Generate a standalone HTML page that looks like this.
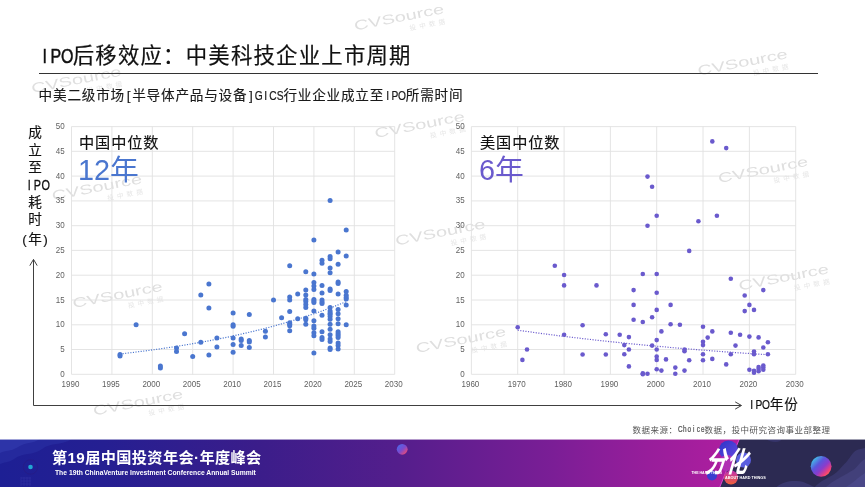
<!DOCTYPE html>
<html lang="zh-CN">
<head>
<meta charset="utf-8">
<title>IPO后移效应：中美科技企业上市周期</title>
<style>
html,body{margin:0;padding:0;background:#fff;}
body{width:865px;height:487px;position:relative;overflow:hidden;font-family:"Liberation Sans","Noto Sans CJK SC",sans-serif;color:#111;}
.abs{position:absolute;white-space:nowrap;}
#title{left:38.8px;top:41.2px;font-size:21.36px;letter-spacing:1.24px;line-height:30px;color:#111;-webkit-text-stroke:0.2px #111;}
#rule{left:38.5px;top:73px;width:779px;height:1.2px;background:#333;}
#sub{left:38.6px;top:86px;font-size:13.61px;letter-spacing:0.79px;line-height:20px;color:#1a1a1a;-webkit-text-stroke:0.15px #1a1a1a;}
#ylab{left:20px;top:124.2px;width:30px;text-align:center;font-size:13.61px;letter-spacing:0.79px;line-height:17.35px;color:#111;white-space:normal;-webkit-text-stroke:0.15px #111;}
#ylab div{height:17.35px;letter-spacing:0;}
.med{font-size:15.21px;letter-spacing:0.89px;line-height:22px;color:#111;-webkit-text-stroke:0.15px #111;}
.big{font-size:28.8px;line-height:34px;}
#xlab{left:748.2px;top:394px;font-size:13.61px;letter-spacing:0.79px;line-height:22px;color:#111;-webkit-text-stroke:0.15px #111;}
#src{left:632.6px;top:422.6px;font-size:8.50px;letter-spacing:0.49px;line-height:14px;color:#555;}
#ft1{left:52px;top:447.9px;font-size:15.2px;letter-spacing:0.36px;line-height:20px;color:#fff;font-weight:bold;}
#ft2{left:55px;top:468.6px;font-size:6.75px;line-height:8px;color:#fff;font-weight:bold;}
</style>
</head>
<body>
<svg class="abs" style="left:0;top:0" width="865" height="487" viewBox="0 0 865 487"><g transform="translate(32.2,93.0) rotate(-11)"><text x="0" y="0" font-size="13.4" textLength="91.5" lengthAdjust="spacingAndGlyphs" font-family="Liberation Sans, sans-serif" fill="#dfdfdf">CVSource</text><text x="54" y="10.5" font-size="6.6" textLength="36" font-family="Liberation Sans, Noto Sans CJK SC, sans-serif" fill="#e6e6e6">投中数据</text></g><g transform="translate(52.8,200.5) rotate(-11)"><text x="0" y="0" font-size="13.4" textLength="91.5" lengthAdjust="spacingAndGlyphs" font-family="Liberation Sans, sans-serif" fill="#dfdfdf">CVSource</text><text x="54" y="10.5" font-size="6.6" textLength="36" font-family="Liberation Sans, Noto Sans CJK SC, sans-serif" fill="#e6e6e6">投中数据</text></g><g transform="translate(73.4,308.0) rotate(-11)"><text x="0" y="0" font-size="13.4" textLength="91.5" lengthAdjust="spacingAndGlyphs" font-family="Liberation Sans, sans-serif" fill="#dfdfdf">CVSource</text><text x="54" y="10.5" font-size="6.6" textLength="36" font-family="Liberation Sans, Noto Sans CJK SC, sans-serif" fill="#e6e6e6">投中数据</text></g><g transform="translate(94.0,415.5) rotate(-11)"><text x="0" y="0" font-size="13.4" textLength="91.5" lengthAdjust="spacingAndGlyphs" font-family="Liberation Sans, sans-serif" fill="#dfdfdf">CVSource</text><text x="54" y="10.5" font-size="6.6" textLength="36" font-family="Liberation Sans, Noto Sans CJK SC, sans-serif" fill="#e6e6e6">投中数据</text></g><g transform="translate(355.0,30.5) rotate(-11)"><text x="0" y="0" font-size="13.4" textLength="91.5" lengthAdjust="spacingAndGlyphs" font-family="Liberation Sans, sans-serif" fill="#dfdfdf">CVSource</text><text x="54" y="10.5" font-size="6.6" textLength="36" font-family="Liberation Sans, Noto Sans CJK SC, sans-serif" fill="#e6e6e6">投中数据</text></g><g transform="translate(375.6,138.0) rotate(-11)"><text x="0" y="0" font-size="13.4" textLength="91.5" lengthAdjust="spacingAndGlyphs" font-family="Liberation Sans, sans-serif" fill="#dfdfdf">CVSource</text><text x="54" y="10.5" font-size="6.6" textLength="36" font-family="Liberation Sans, Noto Sans CJK SC, sans-serif" fill="#e6e6e6">投中数据</text></g><g transform="translate(396.2,245.5) rotate(-11)"><text x="0" y="0" font-size="13.4" textLength="91.5" lengthAdjust="spacingAndGlyphs" font-family="Liberation Sans, sans-serif" fill="#dfdfdf">CVSource</text><text x="54" y="10.5" font-size="6.6" textLength="36" font-family="Liberation Sans, Noto Sans CJK SC, sans-serif" fill="#e6e6e6">投中数据</text></g><g transform="translate(416.8,353.0) rotate(-11)"><text x="0" y="0" font-size="13.4" textLength="91.5" lengthAdjust="spacingAndGlyphs" font-family="Liberation Sans, sans-serif" fill="#dfdfdf">CVSource</text><text x="54" y="10.5" font-size="6.6" textLength="36" font-family="Liberation Sans, Noto Sans CJK SC, sans-serif" fill="#e6e6e6">投中数据</text></g><g transform="translate(698.4,75.5) rotate(-11)"><text x="0" y="0" font-size="13.4" textLength="91.5" lengthAdjust="spacingAndGlyphs" font-family="Liberation Sans, sans-serif" fill="#dfdfdf">CVSource</text><text x="54" y="10.5" font-size="6.6" textLength="36" font-family="Liberation Sans, Noto Sans CJK SC, sans-serif" fill="#e6e6e6">投中数据</text></g><g transform="translate(719.0,183.0) rotate(-11)"><text x="0" y="0" font-size="13.4" textLength="91.5" lengthAdjust="spacingAndGlyphs" font-family="Liberation Sans, sans-serif" fill="#dfdfdf">CVSource</text><text x="54" y="10.5" font-size="6.6" textLength="36" font-family="Liberation Sans, Noto Sans CJK SC, sans-serif" fill="#e6e6e6">投中数据</text></g><g transform="translate(739.6,290.5) rotate(-11)"><text x="0" y="0" font-size="13.4" textLength="91.5" lengthAdjust="spacingAndGlyphs" font-family="Liberation Sans, sans-serif" fill="#dfdfdf">CVSource</text><text x="54" y="10.5" font-size="6.6" textLength="36" font-family="Liberation Sans, Noto Sans CJK SC, sans-serif" fill="#e6e6e6">投中数据</text></g></svg>
<div class="abs" id="title"><svg width="33.90" height="20.79" viewBox="0 0 33.90 20.79" style="overflow:visible;vertical-align:baseline;letter-spacing:0"><text transform="scale(0.77,1)" x="7.34 22.01 36.69" y="20.79" text-anchor="middle" font-family="Liberation Sans, sans-serif" font-size="20.79" fill="currentColor" stroke="currentColor" stroke-width="0.5">IPO</text></svg>后移效应：中美科技企业上市周期</div>
<div class="abs" id="rule"></div>
<div class="abs" id="sub">中美二级市场<span style="display:inline-block;width:7.20px;text-align:center;letter-spacing:0">[</span>半导体产品与设备<span style="display:inline-block;width:7.20px;text-align:center;letter-spacing:0">]</span><svg width="28.80" height="13.25" viewBox="0 0 28.80 13.25" style="overflow:visible;vertical-align:baseline;letter-spacing:0"><text transform="scale(0.77,1)" x="4.68 14.03 23.38 32.73" y="13.25" text-anchor="middle" font-family="Liberation Sans, sans-serif" font-size="13.25" fill="currentColor" stroke="currentColor" stroke-width="0.25">GICS</text></svg>行业企业成立至<svg width="21.60" height="13.25" viewBox="0 0 21.60 13.25" style="overflow:visible;vertical-align:baseline;letter-spacing:0"><text transform="scale(0.77,1)" x="4.68 14.03 23.38" y="13.25" text-anchor="middle" font-family="Liberation Sans, sans-serif" font-size="13.25" fill="currentColor" stroke="currentColor" stroke-width="0.25">IPO</text></svg>所需时间</div>
<div class="abs" id="ylab"><div>成</div><div>立</div><div>至</div><div style="white-space:nowrap;position:relative;left:2.6px"><svg width="24.90" height="14.11" viewBox="0 0 24.90 14.11" style="overflow:visible;vertical-align:baseline;letter-spacing:0"><text transform="scale(0.77,1)" x="5.39 16.17 26.95" y="14.11" text-anchor="middle" font-family="Liberation Sans, sans-serif" font-size="14.11" fill="currentColor" stroke="currentColor" stroke-width="0.3">IPO</text></svg></div><div>耗</div><div>时</div><div style="margin-top:3.2px"><span style="display:inline-block;width:7.20px;text-align:center;letter-spacing:0">(</span>年<span style="display:inline-block;width:7.20px;text-align:center;letter-spacing:0">)</span></div></div>
<svg class="abs" style="left:0;top:0" width="865" height="487" viewBox="0 0 865 487"><g stroke="#e1e1e1" stroke-width="0.9"><line x1="71.5" y1="374.3" x2="394.7" y2="374.3"/><line x1="71.5" y1="349.5" x2="394.7" y2="349.5"/><line x1="71.5" y1="324.8" x2="394.7" y2="324.8"/><line x1="71.5" y1="300.0" x2="394.7" y2="300.0"/><line x1="71.5" y1="275.2" x2="394.7" y2="275.2"/><line x1="71.5" y1="250.4" x2="394.7" y2="250.4"/><line x1="71.5" y1="225.7" x2="394.7" y2="225.7"/><line x1="71.5" y1="200.9" x2="394.7" y2="200.9"/><line x1="71.5" y1="176.1" x2="394.7" y2="176.1"/><line x1="71.5" y1="151.3" x2="394.7" y2="151.3"/><line x1="71.5" y1="126.6" x2="394.7" y2="126.6"/><line x1="71.5" y1="126.6" x2="71.5" y2="374.3"/><line x1="111.9" y1="126.6" x2="111.9" y2="374.3"/><line x1="152.3" y1="126.6" x2="152.3" y2="374.3"/><line x1="192.7" y1="126.6" x2="192.7" y2="374.3"/><line x1="233.1" y1="126.6" x2="233.1" y2="374.3"/><line x1="273.5" y1="126.6" x2="273.5" y2="374.3"/><line x1="313.9" y1="126.6" x2="313.9" y2="374.3"/><line x1="354.3" y1="126.6" x2="354.3" y2="374.3"/><line x1="394.7" y1="126.6" x2="394.7" y2="374.3"/></g><g font-family="Liberation Sans, sans-serif" font-size="8.9" fill="#5f5f5f"><text x="64.7" y="376.8" text-anchor="end" textLength="4.45" lengthAdjust="spacingAndGlyphs">0</text><text x="64.7" y="352.0" text-anchor="end" textLength="4.45" lengthAdjust="spacingAndGlyphs">5</text><text x="64.7" y="327.2" text-anchor="end" textLength="8.90" lengthAdjust="spacingAndGlyphs">10</text><text x="64.7" y="302.5" text-anchor="end" textLength="8.90" lengthAdjust="spacingAndGlyphs">15</text><text x="64.7" y="277.7" text-anchor="end" textLength="8.90" lengthAdjust="spacingAndGlyphs">20</text><text x="64.7" y="252.9" text-anchor="end" textLength="8.90" lengthAdjust="spacingAndGlyphs">25</text><text x="64.7" y="228.2" text-anchor="end" textLength="8.90" lengthAdjust="spacingAndGlyphs">30</text><text x="64.7" y="203.4" text-anchor="end" textLength="8.90" lengthAdjust="spacingAndGlyphs">35</text><text x="64.7" y="178.6" text-anchor="end" textLength="8.90" lengthAdjust="spacingAndGlyphs">40</text><text x="64.7" y="153.8" text-anchor="end" textLength="8.90" lengthAdjust="spacingAndGlyphs">45</text><text x="64.7" y="129.1" text-anchor="end" textLength="8.90" lengthAdjust="spacingAndGlyphs">50</text><text x="70.5" y="387.1" text-anchor="middle" textLength="17.80" lengthAdjust="spacingAndGlyphs">1990</text><text x="110.9" y="387.1" text-anchor="middle" textLength="17.80" lengthAdjust="spacingAndGlyphs">1995</text><text x="151.3" y="387.1" text-anchor="middle" textLength="17.80" lengthAdjust="spacingAndGlyphs">2000</text><text x="191.7" y="387.1" text-anchor="middle" textLength="17.80" lengthAdjust="spacingAndGlyphs">2005</text><text x="232.1" y="387.1" text-anchor="middle" textLength="17.80" lengthAdjust="spacingAndGlyphs">2010</text><text x="272.5" y="387.1" text-anchor="middle" textLength="17.80" lengthAdjust="spacingAndGlyphs">2015</text><text x="312.9" y="387.1" text-anchor="middle" textLength="17.80" lengthAdjust="spacingAndGlyphs">2020</text><text x="353.3" y="387.1" text-anchor="middle" textLength="17.80" lengthAdjust="spacingAndGlyphs">2025</text><text x="393.7" y="387.1" text-anchor="middle" textLength="17.80" lengthAdjust="spacingAndGlyphs">2030</text></g><g stroke="#e1e1e1" stroke-width="0.9"><line x1="471.4" y1="374.3" x2="795.7" y2="374.3"/><line x1="471.4" y1="349.5" x2="795.7" y2="349.5"/><line x1="471.4" y1="324.8" x2="795.7" y2="324.8"/><line x1="471.4" y1="300.0" x2="795.7" y2="300.0"/><line x1="471.4" y1="275.2" x2="795.7" y2="275.2"/><line x1="471.4" y1="250.4" x2="795.7" y2="250.4"/><line x1="471.4" y1="225.7" x2="795.7" y2="225.7"/><line x1="471.4" y1="200.9" x2="795.7" y2="200.9"/><line x1="471.4" y1="176.1" x2="795.7" y2="176.1"/><line x1="471.4" y1="151.3" x2="795.7" y2="151.3"/><line x1="471.4" y1="126.6" x2="795.7" y2="126.6"/><line x1="471.4" y1="126.6" x2="471.4" y2="374.3"/><line x1="517.7" y1="126.6" x2="517.7" y2="374.3"/><line x1="564.1" y1="126.6" x2="564.1" y2="374.3"/><line x1="610.4" y1="126.6" x2="610.4" y2="374.3"/><line x1="656.7" y1="126.6" x2="656.7" y2="374.3"/><line x1="703.0" y1="126.6" x2="703.0" y2="374.3"/><line x1="749.4" y1="126.6" x2="749.4" y2="374.3"/><line x1="795.7" y1="126.6" x2="795.7" y2="374.3"/></g><g font-family="Liberation Sans, sans-serif" font-size="8.9" fill="#5f5f5f"><text x="464.6" y="376.8" text-anchor="end" textLength="4.45" lengthAdjust="spacingAndGlyphs">0</text><text x="464.6" y="352.0" text-anchor="end" textLength="4.45" lengthAdjust="spacingAndGlyphs">5</text><text x="464.6" y="327.2" text-anchor="end" textLength="8.90" lengthAdjust="spacingAndGlyphs">10</text><text x="464.6" y="302.5" text-anchor="end" textLength="8.90" lengthAdjust="spacingAndGlyphs">15</text><text x="464.6" y="277.7" text-anchor="end" textLength="8.90" lengthAdjust="spacingAndGlyphs">20</text><text x="464.6" y="252.9" text-anchor="end" textLength="8.90" lengthAdjust="spacingAndGlyphs">25</text><text x="464.6" y="228.2" text-anchor="end" textLength="8.90" lengthAdjust="spacingAndGlyphs">30</text><text x="464.6" y="203.4" text-anchor="end" textLength="8.90" lengthAdjust="spacingAndGlyphs">35</text><text x="464.6" y="178.6" text-anchor="end" textLength="8.90" lengthAdjust="spacingAndGlyphs">40</text><text x="464.6" y="153.8" text-anchor="end" textLength="8.90" lengthAdjust="spacingAndGlyphs">45</text><text x="464.6" y="129.1" text-anchor="end" textLength="8.90" lengthAdjust="spacingAndGlyphs">50</text><text x="470.4" y="387.1" text-anchor="middle" textLength="17.80" lengthAdjust="spacingAndGlyphs">1960</text><text x="516.7" y="387.1" text-anchor="middle" textLength="17.80" lengthAdjust="spacingAndGlyphs">1970</text><text x="563.1" y="387.1" text-anchor="middle" textLength="17.80" lengthAdjust="spacingAndGlyphs">1980</text><text x="609.4" y="387.1" text-anchor="middle" textLength="17.80" lengthAdjust="spacingAndGlyphs">1990</text><text x="655.7" y="387.1" text-anchor="middle" textLength="17.80" lengthAdjust="spacingAndGlyphs">2000</text><text x="702.0" y="387.1" text-anchor="middle" textLength="17.80" lengthAdjust="spacingAndGlyphs">2010</text><text x="748.4" y="387.1" text-anchor="middle" textLength="17.80" lengthAdjust="spacingAndGlyphs">2020</text><text x="794.7" y="387.1" text-anchor="middle" textLength="17.80" lengthAdjust="spacingAndGlyphs">2030</text></g><polyline points="120.0,354.0 124.0,353.5 128.1,353.0 132.1,352.6 136.1,352.0 140.2,351.5 144.2,351.0 148.3,350.5 152.3,349.9 156.3,349.4 160.4,348.8 164.4,348.2 168.5,347.6 172.5,347.0 176.5,346.4 180.6,345.7 184.6,345.1 188.7,344.4 192.7,343.7 196.7,343.0 200.8,342.3 204.8,341.5 208.9,340.8 212.9,340.0 216.9,339.2 221.0,338.4 225.0,337.6 229.1,336.8 233.1,335.9 237.1,335.0 241.2,334.1 245.2,333.2 249.3,332.2 253.3,331.3 257.3,330.3 261.4,329.3 265.4,328.2 269.5,327.2 273.5,326.1 277.5,325.0 281.6,323.8 285.6,322.7 289.7,321.5 293.7,320.3 297.7,319.0 301.8,317.8 305.8,316.5 309.9,315.1 313.9,313.8 317.9,312.4 322.0,311.0 326.0,309.5 330.1,308.0 334.1,306.5 338.1,304.9 342.2,303.3 346.2,301.7" fill="none" stroke="#4a76cf" stroke-width="1.2" stroke-dasharray="1.1 1.5"/><polyline points="517.7,330.2 522.4,330.9 527.0,331.5 531.6,332.1 536.3,332.8 540.9,333.4 545.5,334.0 550.2,334.6 554.8,335.2 559.4,335.8 564.1,336.4 568.7,336.9 573.3,337.5 578.0,338.0 582.6,338.6 587.2,339.1 591.9,339.6 596.5,340.2 601.1,340.7 605.8,341.2 610.4,341.7 615.0,342.1 619.7,342.6 624.3,343.1 628.9,343.6 633.6,344.0 638.2,344.5 642.8,344.9 647.5,345.4 652.1,345.8 656.7,346.2 661.4,346.6 666.0,347.0 670.6,347.5 675.3,347.9 679.9,348.3 684.5,348.6 689.2,349.0 693.8,349.4 698.4,349.8 703.0,350.1 707.7,350.5 712.3,350.9 716.9,351.2 721.6,351.6 726.2,351.9 730.8,352.2 735.5,352.6 740.1,352.9 744.7,353.2 749.4,353.5 754.0,353.8 758.6,354.1 763.3,354.4 767.9,354.7" fill="none" stroke="#6a5acd" stroke-width="1.2" stroke-dasharray="1.1 1.5"/><g fill="#4a76cf"><circle cx="120.0" cy="356.0" r="2.5"/><circle cx="120.0" cy="354.5" r="2.5"/><circle cx="136.1" cy="324.8" r="2.5"/><circle cx="160.4" cy="367.9" r="2.5"/><circle cx="160.4" cy="365.9" r="2.5"/><circle cx="176.5" cy="348.0" r="2.5"/><circle cx="176.5" cy="351.5" r="2.5"/><circle cx="184.6" cy="333.7" r="2.5"/><circle cx="192.7" cy="356.5" r="2.5"/><circle cx="200.8" cy="295.0" r="2.5"/><circle cx="200.8" cy="342.3" r="2.5"/><circle cx="208.9" cy="283.9" r="2.5"/><circle cx="208.9" cy="307.9" r="2.5"/><circle cx="208.9" cy="355.0" r="2.5"/><circle cx="216.9" cy="338.1" r="2.5"/><circle cx="216.9" cy="347.0" r="2.5"/><circle cx="233.1" cy="312.9" r="2.5"/><circle cx="233.1" cy="324.8" r="2.5"/><circle cx="233.1" cy="326.2" r="2.5"/><circle cx="233.1" cy="338.1" r="2.5"/><circle cx="233.1" cy="344.6" r="2.5"/><circle cx="233.1" cy="352.3" r="2.5"/><circle cx="241.2" cy="339.1" r="2.5"/><circle cx="241.2" cy="340.6" r="2.5"/><circle cx="241.2" cy="345.6" r="2.5"/><circle cx="249.3" cy="314.6" r="2.5"/><circle cx="249.3" cy="340.6" r="2.5"/><circle cx="249.3" cy="342.1" r="2.5"/><circle cx="249.3" cy="347.5" r="2.5"/><circle cx="265.4" cy="331.2" r="2.5"/><circle cx="265.4" cy="337.1" r="2.5"/><circle cx="273.5" cy="300.0" r="2.5"/><circle cx="281.6" cy="317.8" r="2.5"/><circle cx="289.7" cy="265.8" r="2.5"/><circle cx="289.7" cy="297.0" r="2.5"/><circle cx="289.7" cy="300.0" r="2.5"/><circle cx="289.7" cy="311.4" r="2.5"/><circle cx="289.7" cy="322.8" r="2.5"/><circle cx="289.7" cy="324.3" r="2.5"/><circle cx="289.7" cy="325.7" r="2.5"/><circle cx="289.7" cy="330.7" r="2.5"/><circle cx="297.7" cy="294.0" r="2.5"/><circle cx="297.7" cy="318.8" r="2.5"/><circle cx="305.8" cy="271.7" r="2.5"/><circle cx="305.8" cy="290.1" r="2.5"/><circle cx="305.8" cy="295.0" r="2.5"/><circle cx="305.8" cy="299.5" r="2.5"/><circle cx="305.8" cy="301.5" r="2.5"/><circle cx="305.8" cy="304.4" r="2.5"/><circle cx="305.8" cy="307.4" r="2.5"/><circle cx="305.8" cy="318.3" r="2.5"/><circle cx="305.8" cy="319.8" r="2.5"/><circle cx="305.8" cy="324.3" r="2.5"/><circle cx="313.9" cy="240.0" r="2.5"/><circle cx="313.9" cy="274.0" r="2.5"/><circle cx="313.9" cy="282.6" r="2.5"/><circle cx="313.9" cy="286.1" r="2.5"/><circle cx="313.9" cy="289.6" r="2.5"/><circle cx="313.9" cy="299.5" r="2.5"/><circle cx="313.9" cy="301.0" r="2.5"/><circle cx="313.9" cy="302.5" r="2.5"/><circle cx="313.9" cy="310.9" r="2.5"/><circle cx="313.9" cy="320.8" r="2.5"/><circle cx="313.9" cy="326.0" r="2.5"/><circle cx="313.9" cy="328.2" r="2.5"/><circle cx="313.9" cy="332.7" r="2.5"/><circle cx="313.9" cy="335.7" r="2.5"/><circle cx="313.9" cy="353.0" r="2.5"/><circle cx="322.0" cy="260.3" r="2.5"/><circle cx="322.0" cy="263.3" r="2.5"/><circle cx="322.0" cy="285.4" r="2.5"/><circle cx="322.0" cy="293.0" r="2.5"/><circle cx="322.0" cy="300.0" r="2.5"/><circle cx="322.0" cy="302.0" r="2.5"/><circle cx="322.0" cy="303.4" r="2.5"/><circle cx="322.0" cy="315.3" r="2.5"/><circle cx="322.0" cy="331.7" r="2.5"/><circle cx="322.0" cy="337.6" r="2.5"/><circle cx="322.0" cy="339.6" r="2.5"/><circle cx="330.1" cy="200.4" r="2.5"/><circle cx="330.1" cy="256.4" r="2.5"/><circle cx="330.1" cy="258.8" r="2.5"/><circle cx="330.1" cy="268.0" r="2.5"/><circle cx="330.1" cy="272.7" r="2.5"/><circle cx="330.1" cy="289.1" r="2.5"/><circle cx="330.1" cy="290.6" r="2.5"/><circle cx="330.1" cy="307.4" r="2.5"/><circle cx="330.1" cy="310.9" r="2.5"/><circle cx="330.1" cy="312.9" r="2.5"/><circle cx="330.1" cy="314.3" r="2.5"/><circle cx="330.1" cy="316.6" r="2.5"/><circle cx="330.1" cy="319.3" r="2.5"/><circle cx="330.1" cy="324.3" r="2.5"/><circle cx="330.1" cy="329.2" r="2.5"/><circle cx="330.1" cy="334.7" r="2.5"/><circle cx="330.1" cy="339.1" r="2.5"/><circle cx="330.1" cy="341.6" r="2.5"/><circle cx="330.1" cy="348.0" r="2.5"/><circle cx="330.1" cy="349.5" r="2.5"/><circle cx="338.1" cy="251.9" r="2.5"/><circle cx="338.1" cy="264.3" r="2.5"/><circle cx="338.1" cy="282.1" r="2.5"/><circle cx="338.1" cy="283.6" r="2.5"/><circle cx="338.1" cy="294.0" r="2.5"/><circle cx="338.1" cy="309.4" r="2.5"/><circle cx="338.1" cy="313.8" r="2.5"/><circle cx="338.1" cy="318.8" r="2.5"/><circle cx="338.1" cy="323.8" r="2.5"/><circle cx="338.1" cy="331.7" r="2.5"/><circle cx="338.1" cy="333.7" r="2.5"/><circle cx="338.1" cy="335.4" r="2.5"/><circle cx="338.1" cy="337.6" r="2.5"/><circle cx="338.1" cy="343.1" r="2.5"/><circle cx="338.1" cy="345.6" r="2.5"/><circle cx="338.1" cy="349.0" r="2.5"/><circle cx="346.2" cy="229.9" r="2.5"/><circle cx="346.2" cy="255.9" r="2.5"/><circle cx="346.2" cy="291.6" r="2.5"/><circle cx="346.2" cy="295.3" r="2.5"/><circle cx="346.2" cy="297.5" r="2.5"/><circle cx="346.2" cy="299.0" r="2.5"/><circle cx="346.2" cy="304.9" r="2.5"/><circle cx="346.2" cy="324.8" r="2.5"/></g><g fill="#6a5acd"><circle cx="517.7" cy="327.2" r="2.3"/><circle cx="522.4" cy="359.9" r="2.3"/><circle cx="527.0" cy="349.5" r="2.3"/><circle cx="554.8" cy="265.8" r="2.3"/><circle cx="564.1" cy="275.0" r="2.3"/><circle cx="564.1" cy="285.4" r="2.3"/><circle cx="564.1" cy="334.7" r="2.3"/><circle cx="582.6" cy="325.2" r="2.3"/><circle cx="582.6" cy="354.5" r="2.3"/><circle cx="596.5" cy="285.4" r="2.3"/><circle cx="605.8" cy="334.2" r="2.3"/><circle cx="605.8" cy="354.5" r="2.3"/><circle cx="619.7" cy="334.7" r="2.3"/><circle cx="624.3" cy="345.1" r="2.3"/><circle cx="624.3" cy="354.2" r="2.3"/><circle cx="628.9" cy="337.1" r="2.3"/><circle cx="628.9" cy="349.5" r="2.3"/><circle cx="628.9" cy="366.4" r="2.3"/><circle cx="633.6" cy="290.1" r="2.3"/><circle cx="633.6" cy="304.9" r="2.3"/><circle cx="633.6" cy="319.8" r="2.3"/><circle cx="642.8" cy="274.0" r="2.3"/><circle cx="642.8" cy="322.0" r="2.3"/><circle cx="642.8" cy="373.3" r="2.3"/><circle cx="642.8" cy="374.3" r="2.3"/><circle cx="647.5" cy="176.6" r="2.3"/><circle cx="647.5" cy="225.7" r="2.3"/><circle cx="647.5" cy="373.8" r="2.3"/><circle cx="652.1" cy="186.8" r="2.3"/><circle cx="652.1" cy="317.3" r="2.3"/><circle cx="652.1" cy="345.6" r="2.3"/><circle cx="656.7" cy="215.7" r="2.3"/><circle cx="656.7" cy="274.0" r="2.3"/><circle cx="656.7" cy="292.8" r="2.3"/><circle cx="656.7" cy="309.9" r="2.3"/><circle cx="656.7" cy="340.1" r="2.3"/><circle cx="656.7" cy="349.5" r="2.3"/><circle cx="656.7" cy="356.5" r="2.3"/><circle cx="656.7" cy="359.9" r="2.3"/><circle cx="656.7" cy="369.3" r="2.3"/><circle cx="661.4" cy="331.4" r="2.3"/><circle cx="661.4" cy="370.6" r="2.3"/><circle cx="666.0" cy="359.4" r="2.3"/><circle cx="670.6" cy="304.9" r="2.3"/><circle cx="670.6" cy="324.3" r="2.3"/><circle cx="675.3" cy="367.6" r="2.3"/><circle cx="675.3" cy="373.8" r="2.3"/><circle cx="679.9" cy="324.8" r="2.3"/><circle cx="684.5" cy="349.5" r="2.3"/><circle cx="684.5" cy="351.3" r="2.3"/><circle cx="684.5" cy="370.6" r="2.3"/><circle cx="689.2" cy="250.9" r="2.3"/><circle cx="689.2" cy="360.2" r="2.3"/><circle cx="698.4" cy="221.2" r="2.3"/><circle cx="703.0" cy="326.7" r="2.3"/><circle cx="703.0" cy="341.8" r="2.3"/><circle cx="703.0" cy="345.1" r="2.3"/><circle cx="703.0" cy="354.2" r="2.3"/><circle cx="703.0" cy="360.2" r="2.3"/><circle cx="707.7" cy="337.6" r="2.3"/><circle cx="712.3" cy="141.4" r="2.3"/><circle cx="712.3" cy="331.4" r="2.3"/><circle cx="712.3" cy="358.9" r="2.3"/><circle cx="716.9" cy="215.7" r="2.3"/><circle cx="726.2" cy="148.1" r="2.3"/><circle cx="726.2" cy="364.4" r="2.3"/><circle cx="730.8" cy="278.7" r="2.3"/><circle cx="730.8" cy="332.7" r="2.3"/><circle cx="730.8" cy="354.2" r="2.3"/><circle cx="735.5" cy="345.6" r="2.3"/><circle cx="740.1" cy="334.7" r="2.3"/><circle cx="744.7" cy="295.5" r="2.3"/><circle cx="744.7" cy="311.1" r="2.3"/><circle cx="749.4" cy="304.9" r="2.3"/><circle cx="749.4" cy="336.6" r="2.3"/><circle cx="749.4" cy="369.8" r="2.3"/><circle cx="754.0" cy="309.9" r="2.3"/><circle cx="754.0" cy="351.5" r="2.3"/><circle cx="754.0" cy="354.2" r="2.3"/><circle cx="754.0" cy="370.8" r="2.3"/><circle cx="754.0" cy="372.8" r="2.3"/><circle cx="758.6" cy="337.4" r="2.3"/><circle cx="758.6" cy="367.1" r="2.3"/><circle cx="758.6" cy="369.1" r="2.3"/><circle cx="758.6" cy="371.3" r="2.3"/><circle cx="763.3" cy="290.1" r="2.3"/><circle cx="763.3" cy="347.5" r="2.3"/><circle cx="763.3" cy="365.6" r="2.3"/><circle cx="763.3" cy="367.4" r="2.3"/><circle cx="763.3" cy="369.8" r="2.3"/><circle cx="767.9" cy="342.3" r="2.3"/><circle cx="767.9" cy="354.2" r="2.3"/></g><g fill="none" stroke="#404040" stroke-width="1"><polyline points="33.5,259.6 33.5,405.5 741.2,405.5"/><polyline points="29.8,265.6 33.5,259.4 37.2,265.6"/><polyline points="735.2,401.9 741.5,405.5 735.2,409.1"/></g></svg>
<div class="abs med" style="left:79px;top:131.8px;">中国中位数</div>
<div class="abs big" style="left:78px;top:152.8px;color:#4a76cf;">12年</div>
<div class="abs med" style="left:480px;top:131.8px;">美国中位数</div>
<div class="abs big" style="left:479px;top:153.3px;color:#6a5acd;">6年</div>
<div class="abs" id="xlab"><svg width="21.60" height="13.25" viewBox="0 0 21.60 13.25" style="overflow:visible;vertical-align:baseline;letter-spacing:0"><text transform="scale(0.77,1)" x="4.68 14.03 23.38" y="13.25" text-anchor="middle" font-family="Liberation Sans, sans-serif" font-size="13.25" fill="currentColor" stroke="currentColor" stroke-width="0.25">IPO</text></svg>年份</div>
<div class="abs" id="src">数据来源：<svg width="27.00" height="8.28" viewBox="0 0 27.00 8.28" style="overflow:visible;vertical-align:baseline;letter-spacing:0"><text transform="scale(0.77,1)" x="2.92 8.77 14.61 20.45 26.30 32.14" y="8.28" text-anchor="middle" font-family="Liberation Sans, sans-serif" font-size="8.28" fill="currentColor" stroke="currentColor" stroke-width="0.25">Choice</text></svg>数据，投中研究咨询事业部整理</div>

<svg class="abs" style="left:0;top:439px" width="865" height="50" viewBox="0 439 865 50">
<defs>
<linearGradient id="fg" x1="0" y1="0" x2="1" y2="0">
<stop offset="0" stop-color="#1d1f94"/><stop offset="0.12" stop-color="#251f92"/><stop offset="0.30" stop-color="#3b1d8a"/>
<stop offset="0.46" stop-color="#541e8c"/><stop offset="0.64" stop-color="#7b1e96"/><stop offset="0.75" stop-color="#981e9b"/><stop offset="0.86" stop-color="#b21ea0"/><stop offset="1" stop-color="#b21ea0"/>
</linearGradient>
<linearGradient id="sp1" x1="0.1" y1="0.1" x2="0.9" y2="0.9">
<stop offset="0" stop-color="#3fd0e8"/><stop offset="0.35" stop-color="#5a55dc"/><stop offset="0.6" stop-color="#8a3ccc"/><stop offset="0.85" stop-color="#f0407a"/><stop offset="1" stop-color="#ff7048"/>
</linearGradient>
<linearGradient id="sp2" x1="0.1" y1="0.1" x2="0.9" y2="0.9">
<stop offset="0" stop-color="#4a6ae8"/><stop offset="0.5" stop-color="#7a4ad0"/><stop offset="1" stop-color="#f04a70"/>
</linearGradient>
<linearGradient id="bl1" x1="0" y1="0" x2="1" y2="1">
<stop offset="0" stop-color="#2a36c8"/><stop offset="1" stop-color="#6a48e0"/>
</linearGradient>
<linearGradient id="bl2" x1="0" y1="0" x2="0" y2="1">
<stop offset="0" stop-color="#c030b0"/><stop offset="1" stop-color="#f0603a"/>
</linearGradient>
</defs>
<rect x="0" y="439" width="865" height="53" fill="url(#fg)"/>
<path d="M0,439 L72,439 C60,446 52,442 42,449 C32,456 24,452 14,459 C8,463 4,462 0,464 Z" fill="#2a31a4" opacity="0.6"/>
<path d="M0,439 L40,439 C32,444 26,442 18,447 C10,452 6,450 0,453 Z" fill="#343eb0" opacity="0.55"/>
<circle cx="30.5" cy="467" r="7.2" fill="none" stroke="#2a1a80" stroke-width="0.8" opacity="0.7"/>
<circle cx="30.5" cy="467" r="2.3" fill="#22a6d2"/>
<g stroke="#3a3aa8" stroke-width="0.5" opacity="0.8"><path d="M21,477V486M24,477V486M27,477V486M30,477V486M21,478H31M21,481H31M21,484H31"/></g>
<circle cx="402.2" cy="449.3" r="5.4" fill="url(#sp2)"/>
<polygon points="739.3,439 865,439 865,491 718.2,491" fill="#2c2a52"/>
<path d="M776.6,487 C782,482 790,480.5 797,481 C805,481.5 809,485 814.7,487 L814.7,491 L776.6,491 Z" fill="#3a386e"/>
<path d="M814.7,487 C822,480 828,478 834.4,474 C840,470 842,466 846,462.6 C850,458 852,453 856,450.5 C859,449 862,448.5 865,448 L865,491 L814.7,491 Z" fill="#38366a"/>
<path d="M826,487 C832,482 836,480 840,477.6 C846,474 850,472 854,469.5 C858,466 861,461 865,459 L865,491 L826,491 Z" fill="#42407a"/>
<path d="M846,487 C850,484 854,482 858,478 L865,473 L865,491 L846,491 Z" fill="#4a4888"/>
<path d="M766,439 C770,442 776,443 780,441 L782,439 Z" fill="#36346a"/>
<line x1="739.3" y1="439" x2="718.2" y2="491" stroke="#e64ad6" stroke-width="0.9"/>
<circle cx="728.5" cy="450" r="9.6" fill="url(#bl1)"/>
<circle cx="743.5" cy="460" r="7.5" fill="#5a5ee0"/>
<circle cx="727" cy="463" r="8" fill="#b030b4"/>
<circle cx="731" cy="477.5" r="7" fill="url(#bl2)"/>
<circle cx="712" cy="475.5" r="5" fill="#3a3ed0"/>
<circle cx="821.1" cy="466.3" r="10.4" fill="url(#sp1)"/>
<text transform="translate(704.5,472.3) skewX(-16)" font-family="Liberation Sans, Noto Sans CJK SC, sans-serif" font-weight="700" font-size="28.5" fill="#ffffff" textLength="42" lengthAdjust="spacingAndGlyphs">分化</text>
<text x="691.4" y="474.4" font-family="Liberation Sans, sans-serif" font-weight="bold" font-size="3.9" fill="#ffffff" textLength="30.6" lengthAdjust="spacingAndGlyphs">THE HARD THING</text>
<text x="725" y="479.2" font-family="Liberation Sans, sans-serif" font-weight="bold" font-size="3.9" fill="#ffffff" textLength="40.8" lengthAdjust="spacingAndGlyphs">ABOUT HARD THINGS</text>
<rect x="0" y="439" width="865" height="1" fill="#ffffff" opacity="0.55"/>
</svg>

<div class="abs" id="ft1">第19届中国投资年会·年度峰会</div>
<div class="abs" id="ft2">The 19th ChinaVenture Investment Conference Annual Summit</div>
</body>
</html>
